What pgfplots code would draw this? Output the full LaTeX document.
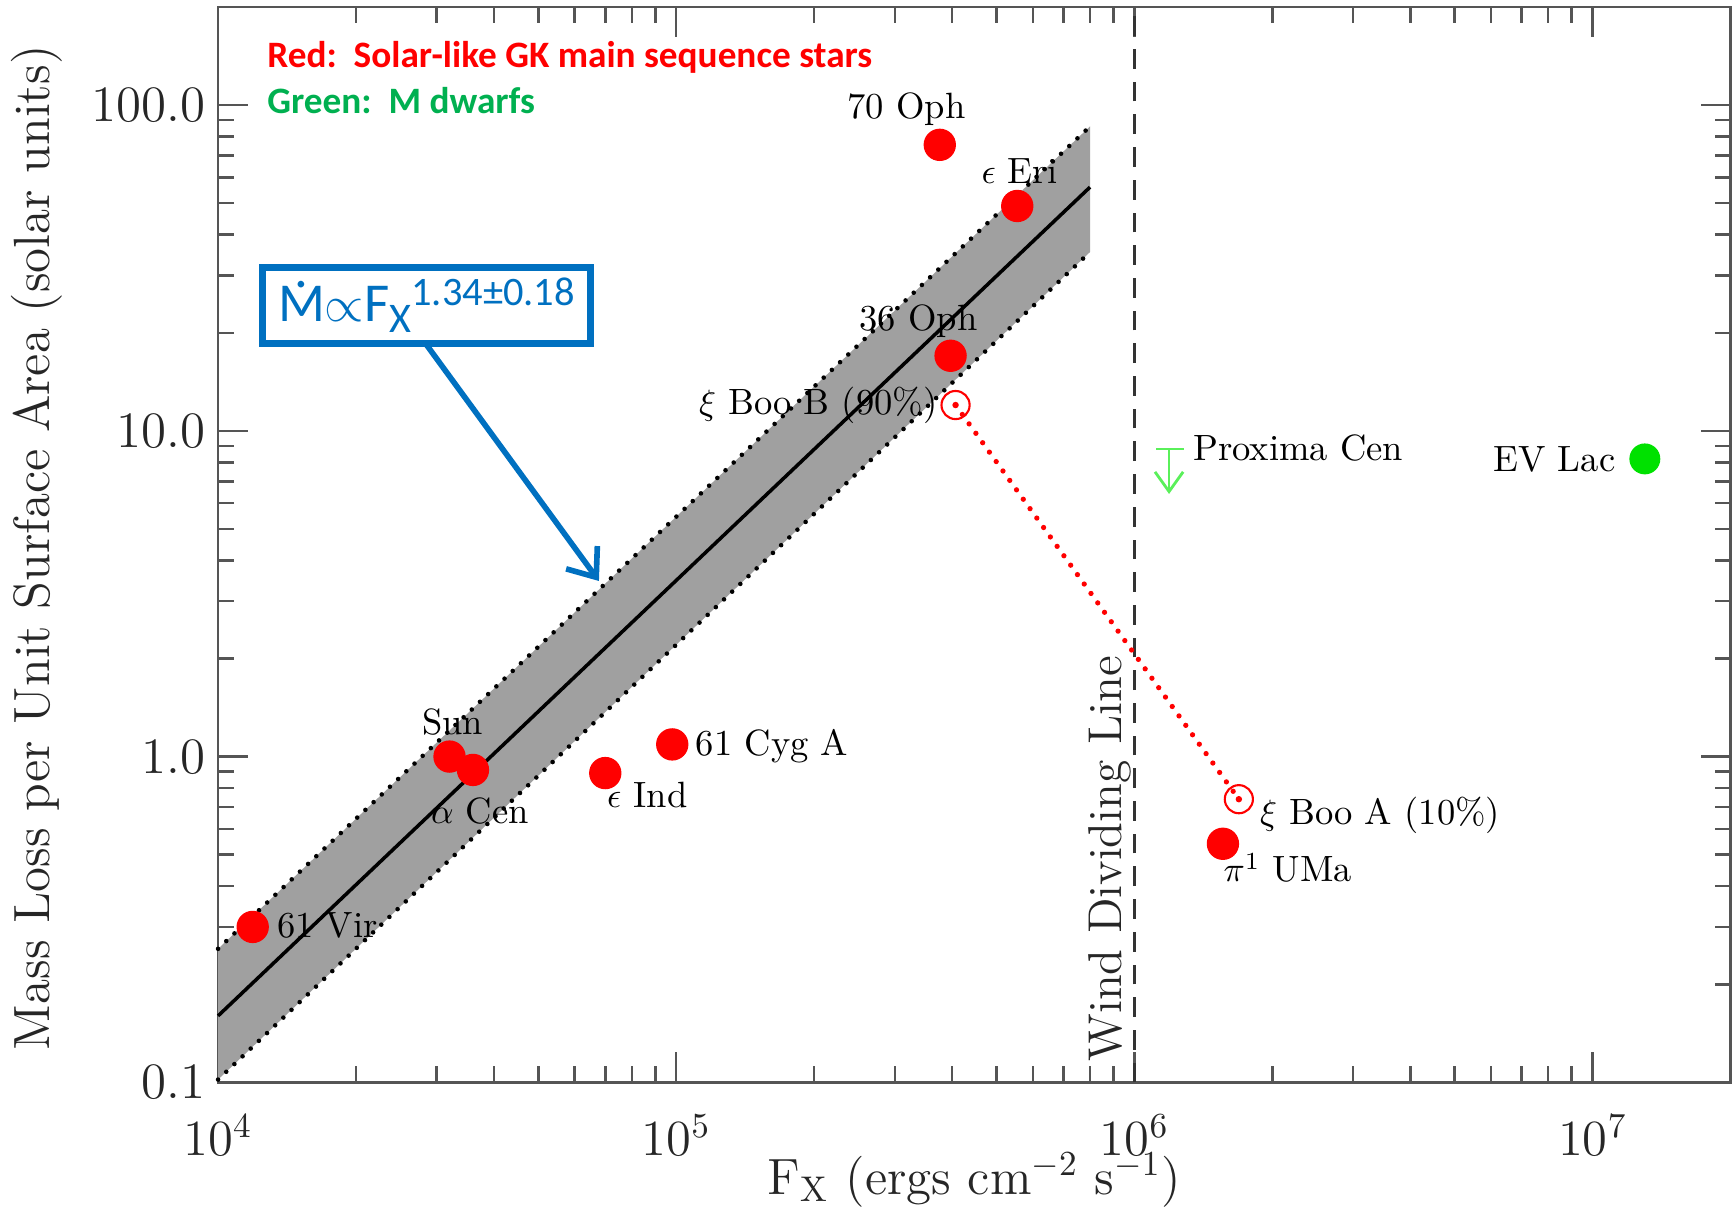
\documentclass[border=0pt]{standalone}
\usepackage{pgfplots}
\pgfplotsset{compat=1.18}
\usetikzlibrary{arrows.meta}
\usepackage{fontspec}
\newfontfamily\calibri{Carlito}
\definecolor{myred}{RGB}{255,0,0}
\definecolor{mygreen}{RGB}{0,176,80}
\definecolor{evgreen}{RGB}{0,225,0}
\definecolor{pxgreen}{RGB}{90,240,90}
\definecolor{myblue}{RGB}{0,112,192}
\definecolor{bandgray}{RGB}{160,160,160}
\definecolor{axgray}{RGB}{85,85,85}
\newcommand\lab{\fontsize{10.4}{12}\selectfont}
\newcommand\Mdot{\setbox0\hbox{M}\rlap{\hbox to\wd0{\hss\raisebox{0.62em}{.}\hss}}M}
\begin{document}
\begin{tikzpicture}
\begin{axis}[name=ax, xmode=log, ymode=log, scale only axis,
  width=15.12cm, height=10.75cm,
  xmin=1e4, xmax=2e7, ymin=0.1, ymax=200, clip=false,
  axis line style={axgray, line width=0.7pt},
  every tick/.style={axgray, line width=0.7pt},
  major tick length=0.3cm, minor tick length=0.16cm,
  xtick={1e4,1e5,1e6,1e7},
  minor xtick={2e4,3e4,4e4,5e4,6e4,7e4,8e4,9e4,2e5,3e5,4e5,5e5,6e5,7e5,8e5,9e5,2e6,3e6,4e6,5e6,6e6,7e6,8e6,9e6},
  ytick={0.1,1,10,100}, yticklabels={0.1,1.0,10.0,100.0},
  minor ytick={0.2,0.3,0.4,0.5,0.6,0.7,0.8,0.9,2,3,4,5,6,7,8,9,20,30,40,50,60,70,80,90},
  tick label style={font=\fontsize{14.5}{17}\selectfont, black!85},
  xticklabel style={yshift=-0.2cm},
  label style={font=\fontsize{14.5}{17}\selectfont, black!85},
  xlabel={F$_{\mathrm{X}}$ (ergs cm$^{-2}$ s$^{-1}$)},
  ylabel={Mass Loss per Unit Surface Area (solar units)},
  xlabel style={at={(axis description cs:0.5,-0.091)}, anchor=center},
  ylabel style={at={(axis description cs:-0.12,0.497)}, anchor=center},
]
% uncertainty band
\addplot[fill=bandgray, draw=none] coordinates {(1e4,0.257) (8e5,86) (8e5,35.4) (1e4,0.102)} --cycle;
\addplot[black, line width=1.3pt, dash pattern=on 0pt off 3.2pt, line cap=round] coordinates {(1e4,0.257) (8e5,86)};
\addplot[black, line width=1.3pt, dash pattern=on 0pt off 3.2pt, line cap=round] coordinates {(1e4,0.102) (8e5,35.4)};
\addplot[black, line width=1pt] coordinates {(1e4,0.16) (8e5,56)};
% wind dividing line
\addplot[black!80, line width=0.9pt, dash pattern=on 5.6pt off 3.7pt] coordinates {(1e6,0.1) (1e6,200)};
% xi Boo connection
\addplot[myred, line width=1.5pt, dash pattern=on 0pt off 3.3pt, line cap=round] coordinates {(4.07e5,12.0) (1.69e6,0.74)};
% GK stars
\addplot[only marks, mark=*, mark size=4.4pt, mark options={draw=myred, fill=myred}] coordinates {
 (1.19e4,0.30) (3.2e4,1.0) (3.6e4,0.91) (7.0e4,0.89) (9.8e4,1.09)
 (3.76e5,75.5) (5.55e5,49) (3.97e5,17.0) (1.56e6,0.54)};
% xi Boo components (open)
\addplot[only marks, mark=o, mark size=4pt, mark options={draw=myred, line width=0.6pt}] coordinates {(4.07e5,12.0) (1.69e6,0.74)};
\addplot[only marks, mark=*, mark size=0.7pt, mark options={draw=myred, fill=myred}] coordinates {(4.07e5,12.0) (1.69e6,0.74)};
% M dwarfs
\addplot[only marks, mark=*, mark size=4.2pt, mark options={draw=evgreen, fill=evgreen}] coordinates {(1.30e7,8.2)};
\addplot[pxgreen, line width=0.8pt] coordinates {(1.117e6,8.8) (1.285e6,8.8)};
\addplot[pxgreen, line width=0.8pt, -{Straight Barb[length=5.6pt, width=8pt]}] coordinates {(1.19e6,8.8) (1.19e6,6.4)};
% labels
\node[font=\lab] at (axis cs:3.18e5,96.9) {70 Oph};
\node[font=\lab] at (axis cs:5.61e5,62.7) {$\epsilon$ Eri};
\node[font=\lab] at (axis cs:3.38e5,21.7) {36 Oph};
\node[font=\lab, anchor=east, inner sep=0pt] at (axis cs:3.73e5,11.97) {$\xi$ Boo B (90\%)};
\node[font=\lab] at (axis cs:3.25e4,1.28) {Sun};
\node[font=\lab] at (axis cs:3.73e4,0.683) {$\alpha$ Cen};
\node[font=\lab] at (axis cs:8.65e4,0.76) {$\epsilon$ Ind};
\node[font=\lab, anchor=west, inner sep=0pt] at (axis cs:1.10e5,1.08) {61 Cyg A};
\node[font=\lab, anchor=west, inner sep=0pt] at (axis cs:1.34e4,0.303) {61 Vir};
\node[font=\fontsize{13.5}{15}\selectfont, rotate=90, black!85] at (axis cs:8.85e5,0.485) {Wind Dividing Line};
\node[font=\lab, anchor=west, inner sep=0pt] at (axis cs:1.34e6,8.83) {Proxima Cen};
\node[font=\lab, anchor=east, inner sep=0pt] at (axis cs:1.125e7,8.17) {EV Lac};
\node[font=\lab, anchor=west, inner sep=0pt] at (axis cs:1.875e6,0.66) {$\xi$ Boo A (10\%)};
\node[font=\lab, anchor=west, inner sep=0pt] at (axis cs:1.56e6,0.455) {$\pi^1$ UMa};
% top-left notes
\node[font=\calibri\bfseries\fontsize{10.6}{12}\selectfont, text=myred, anchor=west, inner sep=0pt] at (axis cs:1.277e4,140) {Red:\ \ Solar-like GK main sequence stars};
\node[font=\calibri\bfseries\fontsize{10.6}{12}\selectfont, text=mygreen, anchor=west, inner sep=0pt] at (axis cs:1.277e4,103) {Green:\ \ M dwarfs};
% fit annotation box
\node[draw=myblue, line width=2pt, fill=white, text=myblue, minimum width=3.27cm, minimum height=0.76cm, inner sep=0pt, font=\calibri\fontsize{15.6}{17}\selectfont] at (axis cs:2.85e4,24.3)
 {\Mdot$\propto$F\raisebox{-0.2em}{\fontsize{12}{12}\selectfont X}\raisebox{0.3em}{\fontsize{11.5}{12}\selectfont 1.34±0.18}};
\addplot[myblue, line width=1.6pt, -{Straight Barb[length=7pt, width=11pt]}] coordinates {(2.84e4,18.5) (6.78e4,3.46)};
\end{axis}
\pgfresetboundingbox
\path ([shift={(-2.18cm,-1.25cm)}]ax.south west) rectangle ([shift={(0.055cm,0.07cm)}]ax.north east);
\end{tikzpicture}
\end{document}
